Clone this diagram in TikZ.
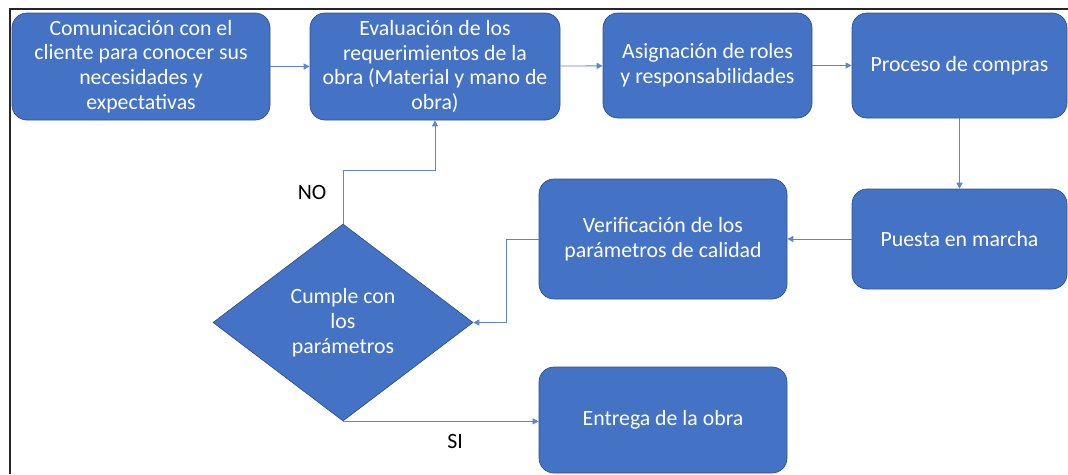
\documentclass[tikz,border=0pt]{standalone}
\usepackage{fontspec}
\setmainfont{Carlito}
\usetikzlibrary{shapes.geometric,arrows.meta}
\definecolor{boxblue}{HTML}{4472C4}
\definecolor{boxline}{HTML}{2F528F}
\definecolor{linkblue}{HTML}{5B87D0}
\begin{document}
\begin{tikzpicture}
        [x=1pt, y=-1pt,
        step box/.style={rectangle, rounded corners=15pt, draw=boxline, line width=0.7pt, fill=boxblue,
            text=white, align=center, inner sep=1pt, font=\fontsize{21.8}{24.8}\selectfont},
        decision/.style={diamond, draw=boxline, line width=0.7pt, fill=boxblue, text=white, align=center,
            inner sep=0pt, minimum width=260pt, minimum height=197pt, font=\fontsize{21.8}{24.8}\selectfont},
        conn/.style={linkblue, line width=0.9pt, -{Triangle[length=6pt,width=6pt]}},
        tag/.style={font=\fontsize{21.8}{24.8}\selectfont, text=black}]

        \useasboundingbox (0,0) rectangle (1068,474);

        % frame
        \draw[line width=1.6pt, black!85] (10,474) -- (10,9) -- (1068,9);

        \node[step box, minimum width=258pt, minimum height=107pt] (com) at (141,66.5)
            {Comunicación con el\\cliente para conocer sus\\necesidades y\\expectativas};
        \node[step box, minimum width=250pt, minimum height=107pt] (eval) at (435,66.5)
            {Evaluación de los\\requerimientos de la\\obra (Material y mano de\\obra)};
        \node[step box, minimum width=209pt, minimum height=105pt] (roles) at (707.5,65.5)
            {Asignación de roles\\y responsabilidades};
        \node[step box, minimum width=215pt, minimum height=105pt] (compras) at (959.5,65.5)
            {Proceso de compras};
        \node[step box, minimum width=215pt, minimum height=100pt] (marcha) at (959.5,239)
            {Puesta en marcha};
        \node[step box, minimum width=248pt, minimum height=120pt] (verif) at (663,239)
            {Verificación de los\\parámetros de calidad};
        \node[decision] (cumple) at (343,322.5)
            {Cumple con\\los\\parámetros};
        \node[step box, minimum width=248pt, minimum height=106pt] (entrega) at (663,420)
            {Entrega de la obra};

        \node[tag] (no) at (312,192) {NO};
        \node[tag] (si) at (455,441) {SI};

        % main flow
        \draw[conn] (com) -- (eval);
        \draw[conn] (eval) -- (roles);
        \draw[conn] (roles) -- (compras);
        \draw[conn] (compras) -- (marcha);
        \draw[conn] (marcha) -- (verif);
        \draw[conn] (verif.west) -- ++(-32,0) |- (cumple.east);

        % decision
        \draw[conn] (cumple.north) -- ++(0,-53) -| (eval.south);
        \draw[conn] (cumple.south) -- (cumple.south -| entrega.west);

\end{tikzpicture}
\end{document}
